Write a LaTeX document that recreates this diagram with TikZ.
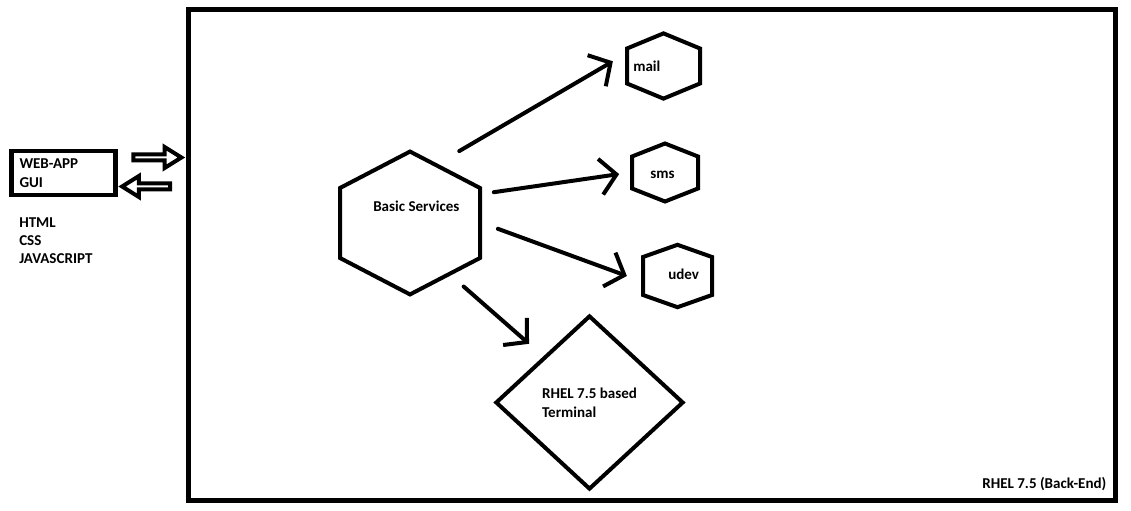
\documentclass[tikz,border=0pt]{standalone}
\usepackage{fontspec}
\setmainfont{Carlito}
\usetikzlibrary{arrows.meta,shapes.geometric,shapes.arrows,shapes.symbols}

\newlength\pxu
\setlength\pxu{0.025cm}

\tikzset{
  txt/.style={font=\bfseries\fontsize{10.7}{13.5}\selectfont, inner sep=0pt},
  hexnode/.style={shape=signal, signal to=north and south, draw, line width=4\pxu, inner sep=0pt},
  blockarrow/.style={shape=single arrow, draw, line width=4\pxu, inner sep=0pt,
    minimum height=48\pxu, minimum width=21\pxu, single arrow head extend=5\pxu, single arrow tip angle=64},
  link/.style={line width=4\pxu, line cap=round, -{Straight Barb[length=11.4pt, width=25.6pt]}}
}

\begin{document}
\begin{tikzpicture}[x=0.025cm, y=-0.025cm]
    \useasboundingbox (0,0) rectangle (1131,511);
    % back-end frame
    \draw[line width=5\pxu] (188,10) rectangle (1115,500);
    \node[txt, anchor=base west] (backend) at (982,488) {RHEL 7.5 (Back-End)};

    % front-end
    \node[txt, draw, line width=4.5\pxu, minimum width=104\pxu, minimum height=44\pxu,
      text width=88\pxu, inner xsep=8\pxu, align=left] (webapp) at (63.5,173) {WEB-APP\\GUI};
    \node[txt, anchor=base west] (html) at (19,228) {HTML};
    \node[txt, anchor=base west] (css) at (19,245.5) {CSS};
    \node[txt, anchor=base west] (js) at (19,263.5) {JAVASCRIPT};
    \node[blockarrow] (toback) at (155,157.5) {};
    \node[blockarrow, shape border rotate=180] (tofront) at (148.5,186.5) {};

    % services
    \node[hexnode, minimum width=140\pxu, minimum height=70\pxu, signal pointer angle=125] (bs) at (410,223) {};
    \node[txt, anchor=base west] (bstext) at (373,212) {Basic Services};
    \node[hexnode, minimum width=73\pxu, minimum height=35\pxu, signal pointer angle=135] (mail) at (663.5,66) {};
    \node[txt, anchor=base west] (mailtext) at (633,72) {mail};
    \node[hexnode, minimum width=66\pxu, minimum height=32\pxu, signal pointer angle=137] (sms) at (665,172.5) {};
    \node[txt, anchor=base west] (smstext) at (650,179) {sms};
    \node[hexnode, minimum width=69\pxu, minimum height=38\pxu, signal pointer angle=141] (udev) at (677.5,276) {};
    \node[txt, anchor=base west] (udevtext) at (668,280) {udev};
    \node[txt, diamond, draw, line width=4\pxu, minimum width=188\pxu, minimum height=174\pxu,
      align=left] (term) at (589.5,402.5) {RHEL 7.5 based\\Terminal};

    \draw[link, shorten <=17.8pt, shorten >=10pt] (bs.65) -- (mail.163);
    \draw[link, shorten <=8.5pt, shorten >=7.8pt] (bs.22) -- (sms.180);
    \draw[link, shorten <=12pt, shorten >=10.7pt] (bs.0) -- (udev.188);
    \draw[link, shorten <=12pt, shorten >=13.5pt] (bs.308) -- (term.135);
\end{tikzpicture}
\end{document}
